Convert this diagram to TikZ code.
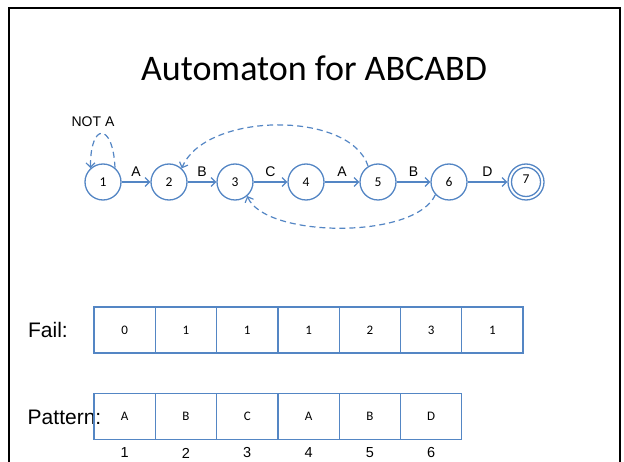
\documentclass[tikz,border=0pt]{standalone}
\usepackage{fontspec}
\setmainfont{Liberation Sans}
\newfontfamily\calib{Carlito}
\usetikzlibrary{arrows.meta}
\definecolor{edgeblue}{RGB}{84,134,196}
\tikzset{
  state/.style={circle, draw=edgeblue, line width=1.3pt, minimum size=36pt,
    inner sep=0pt, font=\calib\fontsize{13.5}{15}\selectfont},
  trans/.style={draw=edgeblue, line width=1.2pt,
    -{Straight Barb[length=4.5pt,width=9pt,line width=1.2pt]}},
  back/.style={trans, dash pattern=on 6pt off 4pt},
  sym/.style={midway, above=5pt, inner sep=0pt, font=\fontsize{14}{16}\selectfont},
  cell/.style={rectangle, draw=edgeblue, line width=1.3pt, minimum width=61.3pt,
    minimum height=46pt, inner sep=0pt, font=\calib\fontsize{13}{15}\selectfont},
  rowlabel/.style={inner sep=0pt, font=\fontsize{21}{24}\selectfont},
  idx/.style={inner sep=0pt, font=\fontsize{14.5}{16}\selectfont}
}
\begin{document}
\begin{tikzpicture}[x=1pt, y=-1pt]
\useasboundingbox (0,0) rectangle (624,462);
% slide frame, open at the bottom
\draw[line width=2pt] (8.5,462) -- (8.5,8) -- (619.5,8) -- (619.5,462);

% title
\node[inner sep=0pt, font=\calib\fontsize{36}{40}\selectfont] (title) at (314,68) {Automaton for ABCABD};

% states
\node[state] (n1) at (103,182) {\raisebox{-2pt}{1}};
\node[state] (n2) at (169,182) {\raisebox{-2pt}{2}};
\node[state] (n3) at (235,182) {\raisebox{-2pt}{3}};
\node[state] (n4) at (306,182) {\raisebox{-2pt}{4}};
\node[state] (n5) at (378,182) {\raisebox{-2pt}{5}};
\node[state] (n6) at (449,182) {\raisebox{-2pt}{6}};
\node[state] (n7) at (526,182) {\raisebox{6pt}{7}};
\draw[edgeblue, line width=1.3pt] (n7.center) circle (14.5pt);

% forward transitions
\draw[trans] (n1) -- node[sym] {A} (n2);
\draw[trans] (n2) -- node[sym] {B} (n3);
\draw[trans] (n3) -- node[sym] {C} (n4);
\draw[trans] (n4) -- node[sym] {A} (n5);
\draw[trans] (n5) -- node[sym] {B} (n6);
\draw[trans] (n6) -- node[sym] {D} (n7);

% self loop and failure links
\node[inner sep=0pt, font=\fontsize{14}{16}\selectfont] (notA) at (93,122) {NOT A};
\draw[back] (n1.50) .. controls (113,122) and (90,122) .. (n1.132);
\draw[back] (n5.122) .. controls (350,110) and (205,112) .. (n2.47);
\draw[back] (n6.223) .. controls (415,240) and (265,238) .. (n3.311);

% failure table
\node[rowlabel] (faillbl) at (48,330) {Fail:};
\foreach \v [count=\i] in {0,1,1,1,2,3,1}
  \node[cell] (f\i) at ({94+61.3*(\i-0.5)},330) {\v};

% pattern table with indices
\node[rowlabel] (patlbl) at (64.5,417) {Pattern:};
\foreach \c [count=\i] in {A,B,C,A,B,D} {
  \node[cell] (p\i) at ({94+61.3*(\i-0.5)},416.5) {\c};
  \node[idx] (i\i) at ({94+61.3*(\i-0.5)},453) {\i};
}
\end{tikzpicture}
\end{document}
